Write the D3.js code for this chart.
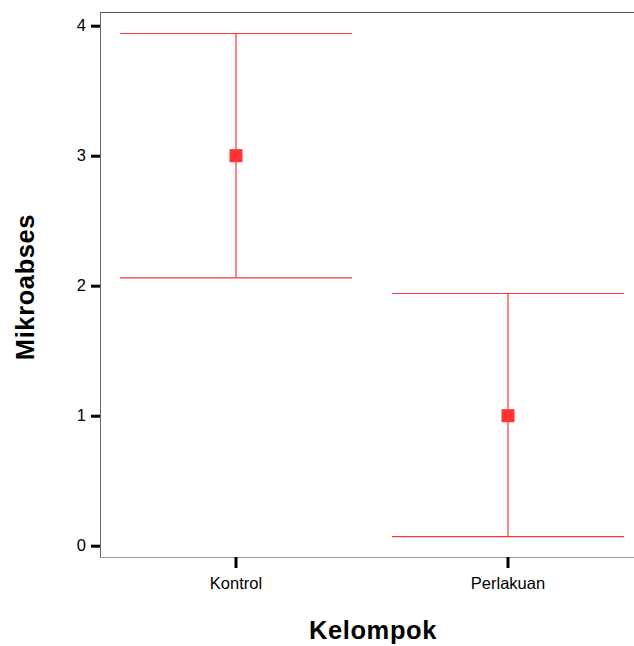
<!DOCTYPE html>
<meta charset="utf-8">
<style>
  body { margin: 0; background: #fff; overflow: hidden; }
  svg { display: block; font-family: "Liberation Sans", Arial, sans-serif; }
</style>
<body>
<script src="https://d3js.org/d3.v7.min.js"></script>
<script>

  // Data
  var groups = ["Kontrol", "Perlakuan"];
  var means  = [3.0, 1.0];
  var lower  = [2.06, 0.07];
  var upper  = [3.94, 1.94];
  var yTicks = [0, 1, 2, 3, 4];

  var width = 634, height = 646;
  // plot frame edges (right edge runs past the window, as in the original)
  var plotL = 100, plotR = 644, plotT = 12, plotB = 557;

  var svg = d3.select("body").append("svg")
      .attr("width", width)
      .attr("height", height);

  var x = d3.scaleBand()
      .domain(groups)
      .range([plotL, plotR]);

  var y = d3.scaleLinear()
      .domain([0, 4])
      .range([545.7, 25.7]);

  // frame: top and left lines darker, bottom lighter
  svg.append("line")
      .attr("x1", plotL).attr("x2", plotR)
      .attr("y1", plotT + 0.5).attr("y2", plotT + 0.5)
      .attr("stroke", "#555").attr("stroke-width", 1);
  svg.append("line")
      .attr("x1", plotL + 0.5).attr("x2", plotL + 0.5)
      .attr("y1", plotT).attr("y2", plotB)
      .attr("stroke", "#666").attr("stroke-width", 1);
  svg.append("line")
      .attr("x1", plotL).attr("x2", plotR)
      .attr("y1", plotB + 0.5).attr("y2", plotB + 0.5)
      .attr("stroke", "#999").attr("stroke-width", 1.2);

  // y axis
  var yAxis = d3.axisLeft(y)
      .tickValues(yTicks)
      .tickSize(9)
      .tickPadding(5)
      .tickFormat(d3.format("d"));
  var gy = svg.append("g")
      .attr("transform", "translate(" + plotL + ",0)")
      .call(yAxis);
  gy.select(".domain").remove();
  gy.selectAll(".tick line").attr("stroke", "#000").attr("stroke-width", 3);
  gy.selectAll(".tick text")
      .attr("font-size", "16.5px")
      .attr("font-family", "Liberation Sans, Arial, sans-serif")
      .attr("fill", "#000");

  // x axis
  var xAxis = d3.axisBottom(x)
      .tickSize(11)
      .tickPadding(9);
  var gx = svg.append("g")
      .attr("transform", "translate(0," + plotB + ")")
      .call(xAxis);
  gx.select(".domain").remove();
  gx.selectAll(".tick line").attr("stroke", "#000").attr("stroke-width", 3);
  gx.selectAll(".tick text")
      .attr("font-size", "16.5px")
      .attr("font-family", "Liberation Sans, Arial, sans-serif")
      .attr("fill", "#000");

  // error bars
  var red = "#ff3333";
  var capW = x.bandwidth() * 0.853;
  var bars = svg.append("g").selectAll("g")
      .data(groups)
      .enter().append("g");

  bars.append("line")
      .attr("x1", function(d) { return x(d) + x.bandwidth() / 2; })
      .attr("x2", function(d) { return x(d) + x.bandwidth() / 2; })
      .attr("y1", function(d, i) { return y(lower[i]); })
      .attr("y2", function(d, i) { return y(upper[i]); })
      .attr("stroke", red).attr("stroke-width", 1.2);
  bars.append("line")
      .attr("x1", function(d) { return x(d) + x.bandwidth() / 2 - capW / 2; })
      .attr("x2", function(d) { return x(d) + x.bandwidth() / 2 + capW / 2; })
      .attr("y1", function(d, i) { return y(upper[i]); })
      .attr("y2", function(d, i) { return y(upper[i]); })
      .attr("stroke", red).attr("stroke-width", 1.2);
  bars.append("line")
      .attr("x1", function(d) { return x(d) + x.bandwidth() / 2 - capW / 2; })
      .attr("x2", function(d) { return x(d) + x.bandwidth() / 2 + capW / 2; })
      .attr("y1", function(d, i) { return y(lower[i]); })
      .attr("y2", function(d, i) { return y(lower[i]); })
      .attr("stroke", red).attr("stroke-width", 1.2);
  bars.append("rect")
      .attr("x", function(d) { return x(d) + x.bandwidth() / 2 - 6.5; })
      .attr("y", function(d, i) { return y(means[i]) - 6.5; })
      .attr("width", 13).attr("height", 13)
      .attr("fill", red);

  // axis titles
  svg.append("text")
      .attr("x", 373)
      .attr("y", 639)
      .attr("text-anchor", "middle")
      .attr("font-size", "25.5px")
      .attr("font-weight", "bold")
      .attr("letter-spacing", "0.6px")
      .text("Kelompok");

  svg.append("text")
      .attr("transform", "translate(34,287) rotate(-90)")
      .attr("text-anchor", "middle")
      .attr("font-size", "25.5px")
      .attr("font-weight", "bold")
      .attr("letter-spacing", "0.6px")
      .text("Mikroabses");

</script>
</body>
